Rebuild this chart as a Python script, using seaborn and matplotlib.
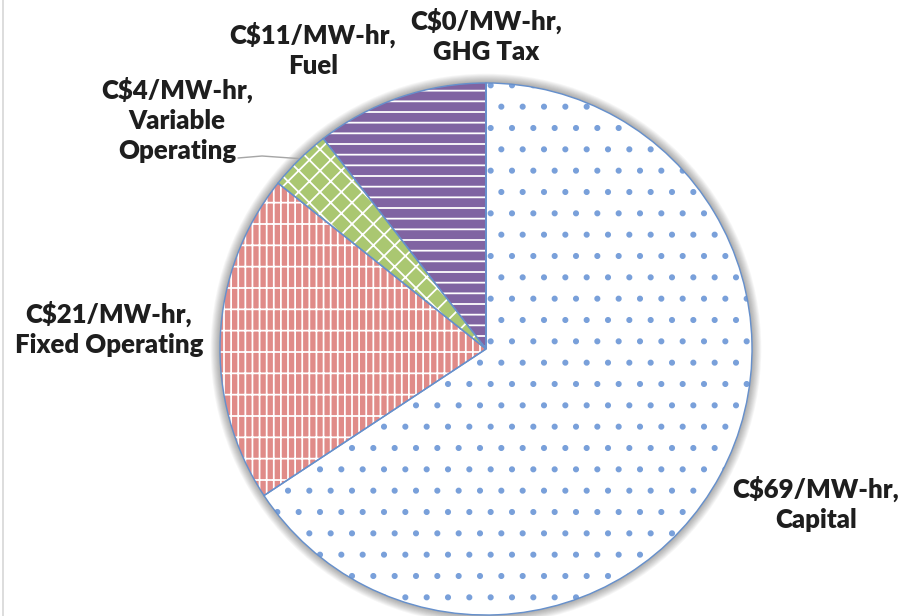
import matplotlib
matplotlib.use("Agg")
import matplotlib.pyplot as plt
import seaborn as sns
import numpy as np
from matplotlib.patches import Circle, Wedge
from matplotlib.lines import Line2D

# Levelized cost components, C$/MW-hr
categories = ["Capital", "Fixed Operating", "Variable Operating", "Fuel", "GHG Tax"]
costs = [69, 21, 4, 11, 0]
label_names = ["Capital", "Fixed Operating", "Variable\nOperating", "Fuel", "GHG Tax"]

face_colors = ["white", "#E08B88", "#AAC771", "#8064A2", "#4BACC6"]
hatch_colors = ["#79A0DA", "white", "white", "white", "white"]
hatches = [".", "|||-", "//\\\\", "--", ""]
outline_color = "#6690CC"

sns.set_theme(style="white")
plt.rcParams["font.family"] = ["Lato", "DejaVu Sans"]
plt.rcParams["hatch.linewidth"] = 1.0

DPI = 128
W, H = 910, 616
fig = plt.figure(figsize=(W / DPI, H / DPI), dpi=DPI)
fig.patch.set_facecolor("white")
ax = fig.add_axes([0, 0, 1, 1])

# pie placement in pixel space: centre and radius
cx, cy, R = 486, 349, 266


def px(x, y):
    """Convert pixel layout coordinates (origin top-left) to data units."""
    return (x - cx) / R, (cy - y) / R


wedges, _ = ax.pie(costs, startangle=90, counterclock=False, radius=1.0,
                   colors=face_colors, wedgeprops=dict(linewidth=0))

# pie() resets the limits, so fix the frame afterwards
ax.set_xlim(-cx / R, (W - cx) / R)
ax.set_ylim(-(H - cy) / R, cy / R)
ax.set_aspect("equal", adjustable="box")
ax.axis("off")

# soft halo behind the pie
for i in range(10):
    ax.add_patch(Circle((0, 0), 1.0 + 0.0035 * (i + 1), facecolor="#000000",
                        edgecolor="none", alpha=0.035, zorder=0))

for w, h, hc in zip(wedges, hatches, hatch_colors):
    w.set_zorder(1)
    w.set_hatch(h)
    w.set_edgecolor(hc)
    w.set_linewidth(0)
    outline = Wedge(w.center, w.r, w.theta1, w.theta2, fill=False,
                    edgecolor=outline_color, linewidth=0.8, zorder=2)
    ax.add_patch(outline)

text_kw = dict(ha="center", va="center", fontsize=14.5, fontweight="heavy",
               color="#1E1E1E", linespacing=1.3, zorder=5)

# label block centres in pixel layout
label_pos = {
    "Capital": (816, 504),
    "Fixed Operating": (109, 329),
    "Variable Operating": (177, 120),
    "Fuel": (313, 50),
    "GHG Tax": (486, 36),
}

for cat, name, val in zip(categories, label_names, costs):
    tx, ty = px(*label_pos[cat])
    ax.text(tx, ty, f"C${val}/MW-hr,\n{name}", **text_kw)

# leader line for the thin Variable Operating slice
w = wedges[categories.index("Variable Operating")]
mid = np.deg2rad((w.theta1 + w.theta2) / 2)
ex, ey = np.cos(mid) * 1.005, np.sin(mid) * 1.005
sx, sy = px(238, 158)
kx, ky = px(262, 156)
ax.plot([sx, kx, ex], [sy, ky, ey], color="#A6A6A6", linewidth=0.8, zorder=3)

# chart area border on the left
fig.add_artist(Line2D([2.5 / W, 2.5 / W], [0, 1], color="#D9D9D9",
                      linewidth=1.0, transform=fig.transFigure))

fig.savefig("out.png", dpi=DPI, facecolor="white")
